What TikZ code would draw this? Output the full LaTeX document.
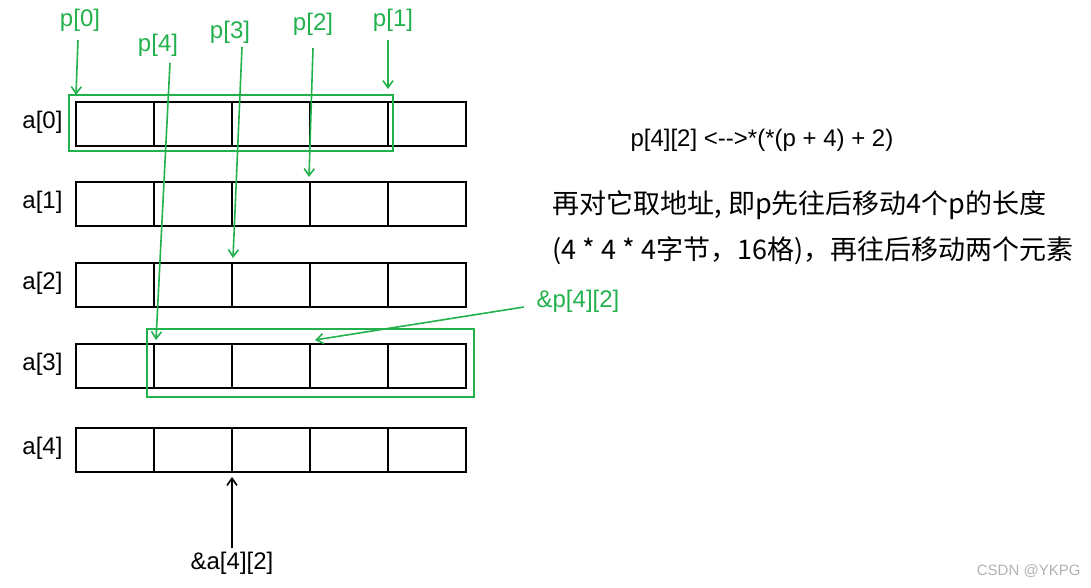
\documentclass[tikz,border=0pt]{standalone}
\usepackage{fontspec}
\setmainfont{Liberation Sans}
\newfontfamily\cjk{Noto Sans CJK SC}
\usetikzlibrary{arrows.meta}
\definecolor{grn}{RGB}{34,177,76}
\begin{document}
\begin{tikzpicture}[x=1pt,y=-1pt,
  cell/.style={draw,line width=2pt,minimum width=78pt,minimum height=44pt,inner sep=0,anchor=north west},
  gbox/.style={draw=grn,line width=1.6pt},
  garr/.style={draw=grn,line width=1.6pt,-{Straight Barb[length=7pt,width=10pt,line width=1.6pt]}},
  glab/.style={text=grn,font=\fontsize{24}{28}\selectfont},
  lab/.style={font=\fontsize{24}{28}\selectfont}]
\useasboundingbox (0,0) rectangle (1091,588);
\foreach \r/\y in {0/101,1/181,2/262,3/343,4/427}{
  \node[lab,anchor=east] (r\r) at (66,\y+21) {a[\r]};
  \foreach \c in {0,...,4}{
    \node[cell] (c\r\c) at (75+78*\c,\y) {};
  }
}
\draw[gbox] (69,95) rectangle (393,151);
\draw[gbox] (147,329) rectangle (474,397);
\node[glab] (p0) at (80,20) {p[0]};
\node[glab] (p4) at (158,45) {p[4]};
\node[glab] (p3) at (230,32) {p[3]};
\node[glab] (p2) at (313,24) {p[2]};
\node[glab] (p1) at (393,20) {p[1]};
\node[glab] (pp) at (578,301) {\&p[4][2]};
\coordinate (s0) at (78,40);  \coordinate (e0) at (76,95);
\coordinate (s1) at (388,40); \coordinate (e1) at (388,89);
\coordinate (s2) at (313,48); \coordinate (e2) at (309,177);
\coordinate (s3) at (242,47); \coordinate (e3) at (233,258);
\coordinate (s4) at (170,63); \coordinate (e4) at (156,340);
\coordinate (sp) at (524,307); \coordinate (ep) at (315,340);
\foreach \i in {0,1,2,3,4,p}{\draw[garr] (s\i) -- (e\i);}
\node[lab] (aa) at (232,563) {\&a[4][2]};
\coordinate (ea) at (232,477);
\draw[line width=1.6pt,-{Straight Barb[length=7pt,width=10pt,line width=1.6pt]}] (aa.north) -- (ea);
\node[lab,anchor=west] (t1) at (627,140) {p[4][2] <{-}{-}>*(*(p + 4) + 2)};
\node[lab,anchor=west] (t2) at (549,205) {\cjk\fontsize{27}{30}\selectfont 再对它取地址, 即p先往后移动4个p的长度};
\node[lab,anchor=west] (t3) at (549,251) {\cjk\fontsize{27}{30}\selectfont (4 * 4 * 4字节，16格)，再往后移动两个元素};
\node[text=gray!60,anchor=east,font=\fontsize{15}{17}\selectfont] (wm) at (1084,571) {CSDN @YKPG};
\end{tikzpicture}
\end{document}
